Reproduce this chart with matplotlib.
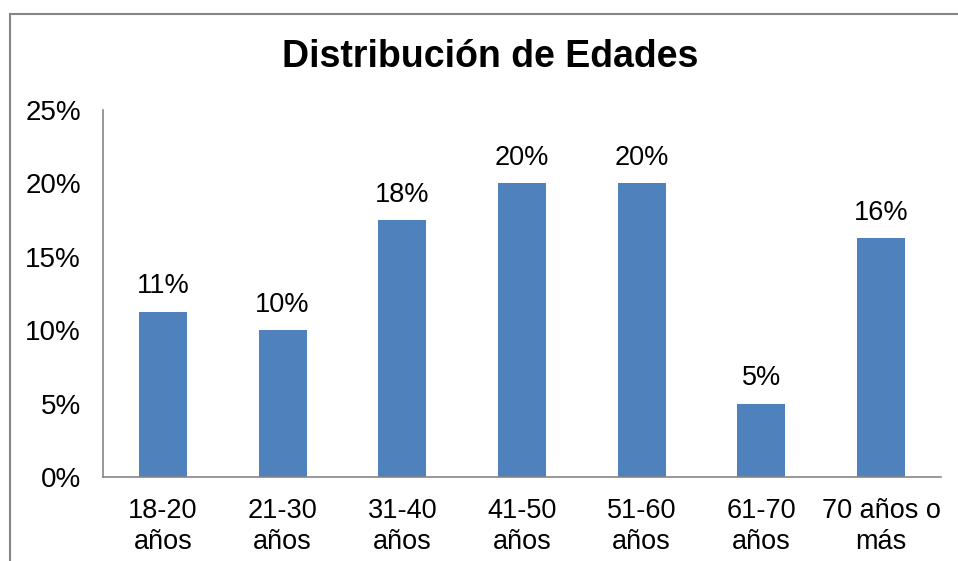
import matplotlib
matplotlib.use("Agg")
from matplotlib import pyplot as plt
from matplotlib.lines import Line2D

categorias = ["18-20\naños", "21-30\naños", "31-40\naños", "41-50\naños",
              "51-60\naños", "61-70\naños", "70 años o\nmás"]
porcentajes = [11.25, 10.0, 17.5, 20.0, 20.0, 5.0, 16.25]
etiquetas = ["11%", "10%", "18%", "20%", "20%", "5%", "16%"]
ticks_y = [0, 5, 10, 15, 20, 25]

plt.rcParams["font.family"] = ["Liberation Sans", "DejaVu Sans"]

fig = plt.figure(figsize=(9.58, 5.61), dpi=100)
ax = fig.add_axes([103 / 958, 84 / 561, 838 / 958, 367 / 561])

x = range(len(categorias))
barras = ax.bar(x, porcentajes, width=0.4, color="#4F81BD")
ax.bar_label(barras, labels=etiquetas, padding=9, fontsize=19.5)

ax.set_xlim(-0.5, len(categorias) - 0.5)
ax.set_ylim(0, 25)
ax.set_yticks(ticks_y)
ax.set_yticklabels([f"{t}%" for t in ticks_y], fontsize=20)
ax.set_xticks(list(x))
ax.set_xticklabels(categorias, fontsize=19.5, linespacing=1.25)
ax.tick_params(axis="x", length=0, pad=15)
ax.tick_params(axis="y", length=0, pad=16)

for lado in ["top", "right"]:
    ax.spines[lado].set_visible(False)
for lado in ["left", "bottom"]:
    ax.spines[lado].set_color("#868686")
    ax.spines[lado].set_linewidth(1.2)

fig.text(490 / 958, 1 - 57 / 561, "Distribución de Edades", fontsize=27,
         fontweight="bold", ha="center", va="center")

# marco del gráfico (solo arriba e izquierda visibles)
borde = "#868686"
fig.add_artist(Line2D([10 / 958, 1], [1 - 14 / 561, 1 - 14 / 561],
                      transform=fig.transFigure, color=borde, linewidth=1.5))
fig.add_artist(Line2D([10 / 958, 10 / 958], [0, 1 - 14 / 561],
                      transform=fig.transFigure, color=borde, linewidth=1.5))

fig.savefig("out.png", dpi=100)
